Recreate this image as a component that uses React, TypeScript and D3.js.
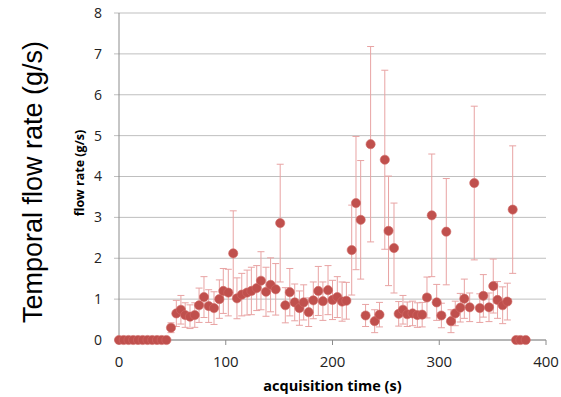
import * as d3 from "d3";

// acquisition time (s)
const times = [
  0, 4.4, 8.9, 13.3, 17.8, 22.2, 26.7, 31.1, 35.6, 40, 44.4,
  48.7, 53.7, 58, 62, 66.5, 71, 75, 79.6, 84, 89, 94, 97.7, 102.4, 107,
  110.5, 115, 120, 124, 129, 133, 137.7, 142, 146.8, 151, 155.8, 160,
  164.6, 169, 173, 177.7, 182, 186.7, 191, 195.8, 200, 204.5, 209, 213,
  218, 222, 226.4, 231, 235.7, 239.5, 244, 249, 252.5, 257.6, 262, 266,
  270, 275, 279.5, 284, 288.5, 293, 297.6, 302, 306.6, 311, 315, 319.7,
  323.5, 328.5, 332.8, 338, 341.3, 346.6, 350.6, 354.6, 359.4, 363.8,
  368.8, 372, 376, 381,
];

// flow rate (g/s)
const flow = [
  0, 0, 0, 0, 0, 0, 0, 0, 0, 0, 0,
  0.3, 0.65, 0.74, 0.61, 0.57, 0.61, 0.85, 1.05, 0.83, 0.78, 1.0, 1.2, 1.16, 2.12,
  1.02, 1.11, 1.16, 1.2, 1.27, 1.45, 1.18, 1.35, 1.24, 2.86, 0.85, 1.17,
  0.92, 0.78, 0.92, 0.68, 0.97, 1.2, 0.95, 1.22, 0.98, 1.05, 0.94, 0.96,
  2.2, 3.35, 2.94, 0.6, 4.79, 0.46, 0.62, 4.41, 2.67, 2.25, 0.64, 0.74,
  0.63, 0.65, 0.61, 0.62, 1.04, 3.05, 0.92, 0.6, 2.65, 0.46, 0.65, 0.79,
  1.01, 0.8, 3.84, 0.78, 1.08, 0.8, 1.32, 0.98, 0.85, 0.94,
  3.19, 0, 0, 0,
];

// error bar half-width (g/s)
const errors = [
  0, 0, 0, 0, 0, 0, 0, 0, 0, 0, 0,
  0.12, 0.32, 0.35, 0.3, 0.29, 0.3, 0.42, 0.5, 0.4, 0.4, 0.47, 0.55, 0.57, 1.04,
  0.5, 0.52, 0.55, 0.58, 0.55, 0.71, 0.6, 0.66, 0.63, 1.44, 0.43, 0.58,
  0.45, 0.42, 0.43, 0.35, 0.45, 0.6, 0.47, 0.6, 0.48, 0.5, 0.48, 0.45,
  1.1, 1.63, 1.45, 0.27, 2.39, 0.28, 0.3, 2.19, 1.34, 1.1, 0.3, 0.35,
  0.3, 0.3, 0.3, 0.3, 0.5, 1.5, 0.44, 0.3, 1.3, 0.28, 0.3, 0.35,
  0.48, 0.35, 1.88, 0.35, 0.52, 0.35, 0.66, 0.45, 0.45, 0.45,
  1.56, 0, 0, 0,
];

const xTicks = [0, 100, 200, 300, 400];
const yTicks = [0, 1, 2, 3, 4, 5, 6, 7, 8];

export default function App() {
  const width = 561;
  const height = 397;
  const margin = { top: 13, right: 15, bottom: 57, left: 119 };

  const x = d3.scaleLinear().domain([0, 400]).range([margin.left, width - margin.right]);
  const y = d3.scaleLinear().domain([0, 8]).range([height - margin.bottom, margin.top]);

  const pts = times.map((t, i) => ({ t, v: flow[i], e: errors[i] }));
  const cap = 3.5;

  return (
    <svg
      width={width}
      height={height}
      style={{ position: "absolute", left: 0, top: 0, background: "#fff" }}
    >
      {/* gridlines + y ticks */}
      {yTicks.map((v) => (
        <g key={v}>
          <line x1={x(0) - 5} x2={x(400)} y1={y(v)} y2={y(v)} stroke="#bfbfbf" strokeWidth={1} />
          <text
            x={102}
            y={y(v)}
            dy="0.35em"
            textAnchor="end"
            fontFamily="'Open Sans', sans-serif"
            fontSize={14}
            fill="#222"
          >
            {v}
          </text>
        </g>
      ))}

      {/* axes */}
      <line x1={x(0)} x2={x(0)} y1={y(0)} y2={y(8)} stroke="#8c8c8c" />
      <line x1={x(0)} x2={x(400)} y1={y(0)} y2={y(0)} stroke="#8c8c8c" />
      {xTicks.map((t) => (
        <g key={t}>
          <line x1={x(t)} x2={x(t)} y1={y(0)} y2={y(0) + 5} stroke="#8c8c8c" />
          <text
            x={x(t)}
            y={367}
            textAnchor="middle"
            fontFamily="'Open Sans', sans-serif"
            fontSize={15}
            fill="#222"
          >
            {t}
          </text>
        </g>
      ))}

      {/* error bars */}
      <g stroke="#e8a3a3" strokeWidth={1}>
        {pts
          .filter((d) => d.e > 0)
          .map((d, i) => (
            <g key={i}>
              <line x1={x(d.t)} x2={x(d.t)} y1={y(d.v - d.e)} y2={y(d.v + d.e)} />
              <line x1={x(d.t) - cap} x2={x(d.t) + cap} y1={y(d.v - d.e)} y2={y(d.v - d.e)} />
              <line x1={x(d.t) - cap} x2={x(d.t) + cap} y1={y(d.v + d.e)} y2={y(d.v + d.e)} />
            </g>
          ))}
      </g>

      {/* points */}
      {pts.map((d, i) => (
        <circle key={i} cx={x(d.t)} cy={y(d.v)} r={4.6} fill="#c0504d" stroke="#d06a67" strokeWidth={0.6} />
      ))}

      {/* labels */}
      <text
        transform="translate(42,182) rotate(-90)"
        textAnchor="middle"
        fontFamily="'Liberation Sans', Arial, sans-serif"
        fontSize={27}
        fill="#000"
      >
        Temporal flow rate (g/s)
      </text>
      <text
        transform="translate(84,173) rotate(-90)"
        textAnchor="middle"
        fontFamily="'Open Sans', sans-serif"
        fontWeight="bold"
        fontSize={12.5}
        fill="#000"
      >
        flow rate (g/s)
      </text>
      <text
        x={x(200)}
        y={391}
        textAnchor="middle"
        fontFamily="'Open Sans', sans-serif"
        fontWeight="bold"
        fontSize={14.5}
        fill="#000"
      >
        acquisition time (s)
      </text>
    </svg>
  );
}
